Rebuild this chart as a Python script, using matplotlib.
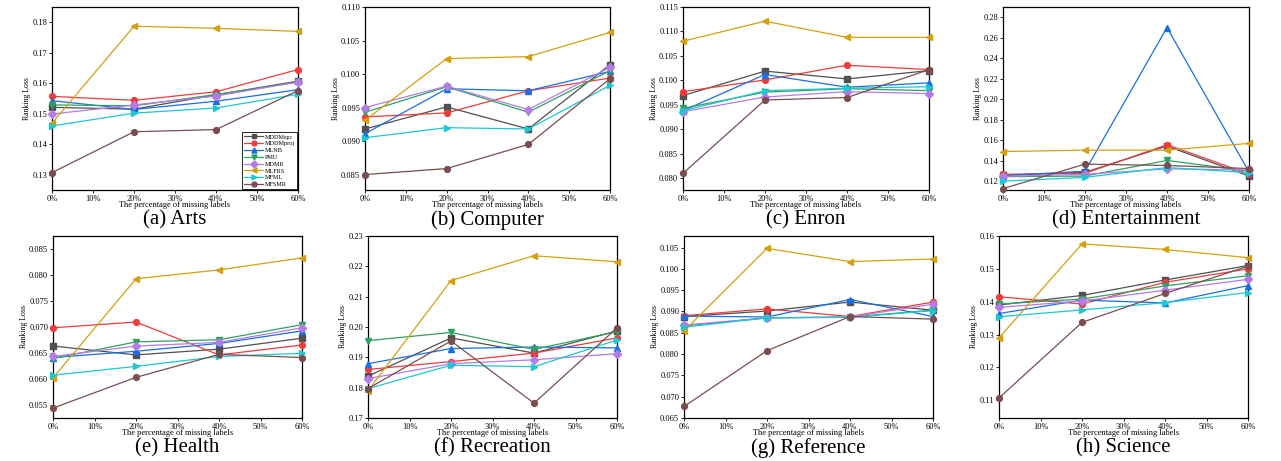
import matplotlib
matplotlib.use("Agg")
import matplotlib.pyplot as plt
from matplotlib.ticker import FuncFormatter

plt.rcParams["font.family"] = ["Liberation Serif", "DejaVu Serif"]

# ============================================================
# Data
# ============================================================

MISSING = [0, 20, 40, 60]
METHODS = ["MDDMspc", "MDDMproj", "MLNB", "PMU", "MDMR", "MLFRS", "MFML", "MFSMR"]
COLORS = ["#505050", "#f03c3c", "#1a6ee6", "#2ea060", "#b57be6", "#d4a010", "#1cc8d2", "#7a4e4e"]
MARKERS = ["s", "o", "^", "v", "D", "<", ">", "o"]

ARTS = [
    [0.1521, 0.1515, 0.1562, 0.1607],
    [0.1557, 0.1544, 0.1572, 0.1645],
    [0.1543, 0.1514, 0.1541, 0.1579],
    [0.1529, 0.1526, 0.1563, 0.1604],
    [0.1499, 0.1529, 0.1558, 0.1604],
    [0.1469, 0.1787, 0.1780, 0.1770],
    [0.1460, 0.1502, 0.1519, 0.1564],
    [0.1307, 0.1441, 0.1448, 0.1576],
]
COMPUTER = [
    [0.0918, 0.0951, 0.0918, 0.1014],
    [0.0936, 0.0942, 0.0975, 0.0994],
    [0.0911, 0.0978, 0.0975, 0.1004],
    [0.0943, 0.0981, 0.0943, 0.1005],
    [0.0950, 0.0982, 0.0947, 0.1010],
    [0.0931, 0.1023, 0.1026, 0.1062],
    [0.0905, 0.0920, 0.0918, 0.0983],
    [0.0850, 0.0859, 0.0895, 0.0993],
]
ENRON = [
    [0.0969, 0.1019, 0.1003, 0.1020],
    [0.0977, 0.1001, 0.1031, 0.1022],
    [0.0938, 0.1012, 0.0986, 0.0995],
    [0.0943, 0.0976, 0.0983, 0.0979],
    [0.0936, 0.0966, 0.0977, 0.0973],
    [0.1080, 0.1121, 0.1088, 0.1088],
    [0.0938, 0.0979, 0.0984, 0.0987],
    [0.0810, 0.0960, 0.0965, 0.1022],
]
ENTERTAINMENT = [
    [0.1260, 0.1290, 0.1545, 0.1253],
    [0.1270, 0.1280, 0.1558, 0.1273],
    [0.1257, 0.1300, 0.2700, 0.1293],
    [0.1247, 0.1253, 0.1405, 0.1300],
    [0.1250, 0.1270, 0.1323, 0.1313],
    [0.1492, 0.1505, 0.1505, 0.1571],
    [0.1203, 0.1240, 0.1336, 0.1286],
    [0.1131, 0.1369, 0.1356, 0.1326],
]
HEALTH = [
    [0.0664, 0.0647, 0.0658, 0.0679],
    [0.0699, 0.0710, 0.0647, 0.0666],
    [0.0642, 0.0654, 0.0669, 0.0693],
    [0.0640, 0.0672, 0.0676, 0.0705],
    [0.0644, 0.0664, 0.0671, 0.0699],
    [0.0603, 0.0793, 0.0810, 0.0833],
    [0.0608, 0.0625, 0.0644, 0.0650],
    [0.0545, 0.0604, 0.0648, 0.0642],
]
RECREATION = [
    [0.1838, 0.1964, 0.1914, 0.1987],
    [0.1860, 0.1886, 0.1914, 0.1964],
    [0.1879, 0.1929, 0.1934, 0.1931],
    [0.1955, 0.1982, 0.1926, 0.1985],
    [0.1830, 0.1879, 0.1892, 0.1912],
    [0.1790, 0.2153, 0.2235, 0.2215],
    [0.1797, 0.1874, 0.1869, 0.1957],
    [0.1797, 0.1954, 0.1749, 0.1997],
]
REFERENCE = [
    [0.0888, 0.0901, 0.0922, 0.0903],
    [0.0890, 0.0906, 0.0888, 0.0922],
    [0.0889, 0.0887, 0.0928, 0.0888],
    [0.0866, 0.0885, 0.0887, 0.0903],
    [0.0868, 0.0885, 0.0887, 0.0917],
    [0.0854, 0.1048, 0.1017, 0.1023],
    [0.0863, 0.0885, 0.0886, 0.0902],
    [0.0677, 0.0808, 0.0888, 0.0882],
]
SCIENCE = [
    [0.1390, 0.1419, 0.1466, 0.1510],
    [0.1415, 0.1393, 0.1459, 0.1500],
    [0.1364, 0.1405, 0.1396, 0.1449],
    [0.1393, 0.1408, 0.1448, 0.1479],
    [0.1383, 0.1402, 0.1435, 0.1468],
    [0.1290, 0.1576, 0.1559, 0.1534],
    [0.1354, 0.1375, 0.1397, 0.1428],
    [0.1107, 0.1337, 0.1425, 0.1508],
]

TITLES = ["(a) Arts", "(b) Computer", "(c) Enron", "(d) Entertainment",
          "(e) Health", "(f) Recreation", "(g) Reference", "(h) Science"]
DATASETS = [ARTS, COMPUTER, ENRON, ENTERTAINMENT, HEALTH, RECREATION, REFERENCE, SCIENCE]
Y_LIMITS = [(0.125, 0.185), (0.0827, 0.110), (0.0776, 0.115), (0.1117, 0.290),
            (0.0526, 0.0875), (0.170, 0.230), (0.065, 0.1077), (0.1046, 0.160)]
Y_TICKS = [
    [0.13, 0.14, 0.15, 0.16, 0.17, 0.18],
    [0.085, 0.090, 0.095, 0.100, 0.105, 0.110],
    [0.080, 0.085, 0.090, 0.095, 0.100, 0.105, 0.110, 0.115],
    [0.12, 0.14, 0.16, 0.18, 0.20, 0.22, 0.24, 0.26, 0.28],
    [0.055, 0.060, 0.065, 0.070, 0.075, 0.080, 0.085],
    [0.17, 0.18, 0.19, 0.20, 0.21, 0.22, 0.23],
    [0.065, 0.070, 0.075, 0.080, 0.085, 0.090, 0.095, 0.100, 0.105],
    [0.11, 0.12, 0.13, 0.14, 0.15, 0.16],
]
Y_FORMATS = ["%.2f", "%.3f", "%.3f", "%.2f", "%.3f", "%.2f", "%.3f", "%.2f"]

# Axes boxes in pixels: left, top, right, bottom
FIG_W, FIG_H = 1281, 461
BOXES = [
    (52, 7, 298, 190), (365, 7, 610, 190), (683, 7, 929, 190), (1003, 7, 1249, 190),
    (53, 236, 302, 418), (368, 236, 617, 418), (684, 236, 933, 418), (999, 236, 1248, 418),
]

# ============================================================
# Figure
# ============================================================

fig = plt.figure(figsize=(FIG_W / 100, FIG_H / 100), dpi=100)

for k, (data, title) in enumerate(zip(DATASETS, TITLES)):
    l, t, r, b = BOXES[k]
    ax = fig.add_axes([l / FIG_W, 1 - b / FIG_H, (r - l) / FIG_W, (b - t) / FIG_H])

    for series, name, color, marker in zip(data, METHODS, COLORS, MARKERS):
        ax.plot(MISSING, series, color=color, marker=marker, markersize=4.2,
                linewidth=0.9, label=name, clip_on=False, zorder=3)

    ax.set_xlim(0, 60)
    ax.set_xticks([0, 10, 20, 30, 40, 50, 60])
    ax.xaxis.set_major_formatter(FuncFormatter(lambda v, p: f"{v:.0f}%"))
    ax.set_ylim(*Y_LIMITS[k])
    ax.set_yticks(Y_TICKS[k])
    fmt = Y_FORMATS[k]
    ax.yaxis.set_major_formatter(FuncFormatter(lambda v, p, fmt=fmt: fmt % v))

    ax.tick_params(labelsize=6, length=2.5, width=0.6, pad=1)
    ax.set_xlabel("The percentage of missing labels", fontsize=6, labelpad=-1.5)
    ax.set_ylabel("Ranking Loss", fontsize=5.6, labelpad=1)
    for spine in ax.spines.values():
        spine.set_linewidth(0.9)

    cx = (l + r) / 2 / FIG_W
    cy = 1 - (b + 30) / FIG_H
    fig.text(cx, cy, title, ha="center", va="center", fontsize=15)

    if k == 0:
        leg = ax.legend(loc="lower right", fontsize=4.4, borderaxespad=0.15,
                        handlelength=3.2, handletextpad=0.3, labelspacing=0.25,
                        borderpad=0.3, fancybox=False, framealpha=1,
                        edgecolor="black", markerscale=0.85)
        leg.get_frame().set_linewidth(0.6)

fig.savefig("out.png", dpi=100)
